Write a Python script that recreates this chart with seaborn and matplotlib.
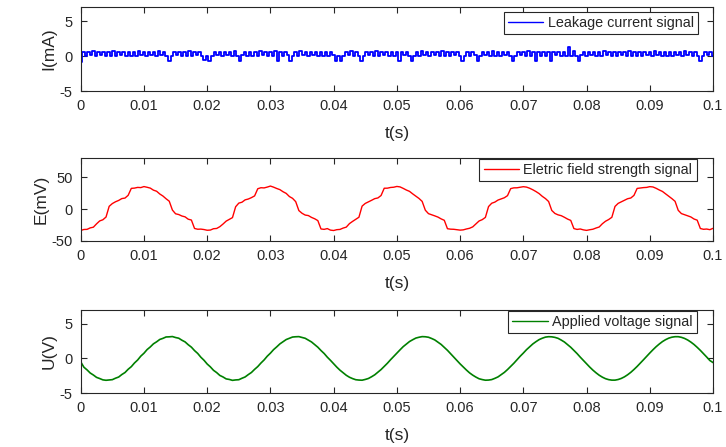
import numpy as np
import matplotlib
matplotlib.use("Agg")
import matplotlib.pyplot as plt
import seaborn as sns

# leakage current I(mA), one sample every 0.4 ms (0 .. 0.1 s)
leak_ma = [
    -0.8, 0.62, 0.04, 0.58, 0.08, 0.66, 0.02, 0.55, 0.10, 0.63,
    0.05, 0.60, 0.00, 0.68, 0.07, 0.57, 0.12, 0.61, 0.03, 0.64,
    0.06, 0.59, 0.01, 0.65, 0.09, 0.56, 0.04, 0.62, 0.11, 0.58,
    0.02, 0.67, 0.08, 0.60, 0.05, -0.75, 0.03, 0.63, 0.10, 0.57,
    0.04, 0.61, 0.07, 0.66, 0.00, 0.59, 0.09, 0.55, 0.06, -0.6,
    0.05, -0.7, 0.02, 0.64, 0.11, 0.58, 0.03, 0.62, 0.08, 0.60,
    0.01, 0.67, 0.06, -0.72, 0.09, 0.57, 0.04, 0.63, 0.07, 0.59,
    0.03, 0.65, 0.10, 0.56, 0.05, 0.61, 0.02, 0.68, -0.7, 0.58,
    0.06, 0.62, 0.09, -0.68, 0.04, 0.60, 0.01, 0.66, 0.08, 0.57,
    0.05, 0.63, 0.11, 0.59, 0.02, 0.64, 0.07, 0.56, 0.03, 0.61,
    0.09, -0.75, 0.06, -0.7, 0.04, 0.58, 0.10, 0.65, 0.01, 0.60,
    0.07, -0.65, 0.03, 0.62, 0.08, 0.57, 0.05, 0.66, 0.02, 0.59,
    0.10, 0.63, 0.04, 0.58, 0.06, 0.64, -0.72, 0.61, 0.09, 0.56,
    0.03, -0.7, 0.07, 0.60, 0.01, 0.65, 0.08, 0.57, 0.05, 0.62,
    0.11, 0.59, 0.02, 0.67, 0.06, 0.58, 0.04, 0.63, 0.09, 0.60,
    0.03, -0.68, 0.07, 0.56, 0.05, 0.64, 0.10, -0.7, 0.02, 0.61,
    0.08, 0.59, 0.04, 0.66, 0.06, 0.57, 0.01, 0.62, 0.09, 0.60,
    0.05, -0.7, 0.03, 0.63, 0.11, 0.58, 0.07, 0.65, 0.02, 0.59,
    -0.72, 0.61, 0.06, 0.57, 0.04, 0.64, -0.7, 0.60, 0.08, 0.62,
    0.03, 0.58, 0.05, 1.3, 0.07, 0.66, 0.01, -0.72, 0.09, 0.59,
    0.04, 0.63, 0.10, 0.57, 0.06, 0.61, 0.02, 0.67, 0.08, 0.58,
    0.05, 0.62, 0.03, 0.60, 0.09, 0.56, 0.07, 0.65, 0.01, 0.59,
    0.06, 0.64, 0.04, 0.58, 0.11, 0.61, 0.03, 0.66, 0.08, 0.57,
    0.02, 0.63, 0.07, 0.60, 0.05, 0.59, 0.10, 0.62, 0.04, 0.65,
    0.09, 0.58, 0.03, 0.61, 0.06, -0.72, 0.01, 0.64, 0.08, 0.60,
    0.05,
]

# electric field strength E(mV), one sample every 0.5 ms
field_mv = [
    -33.5, -32.0, -31.8, -29.5, -28.4, -23.2, -18.6, -16.8, -12.5, 4.3,
    8.6, 11.4, 13.5, 16.4, 17.2, 21.5, 32.4, 32.8, 33.9, 33.6,
    35.2, 34.1, 32.8, 29.6, 27.9, 23.6, 20.4, 16.1, 12.3, -1.6,
    -7.4, -8.6, -10.9, -12.2, -15.9, -17.2, -30.4, -31.6, -31.4, -32.1,
    -33.2, -32.9, -30.8, -30.4, -27.6, -23.5, -18.9, -16.2, -13.4, 3.6,
    9.3, 10.7, 14.4, 15.7, 17.9, 20.6, 31.8, 33.4, 33.1, 34.4,
    36.0, 34.3, 32.2, 30.4, 27.1, 24.5, 19.6, 16.8, 11.6, -2.4,
    -6.6, -9.4, -10.2, -13.1, -15.2, -18.1, -31.2, -31.8, -30.6, -33.0,
    -33.6, -32.3, -31.9, -29.8, -28.3, -22.8, -19.3, -16.1, -12.8, 4.6,
    8.8, 11.2, 13.7, 16.3, 17.4, 21.2, 32.6, 32.7, 33.8, 34.2,
    35.4, 34.7, 32.4, 29.8, 27.7, 23.8, 20.3, 16.6, 12.0, -1.8,
    -7.2, -8.9, -10.7, -12.6, -15.4, -17.6, -30.8, -31.5, -31.7, -32.4,
    -33.0, -32.6, -31.2, -30.1, -27.9, -23.3, -18.7, -16.6, -13.1, 3.9,
    9.1, 10.9, 14.1, 15.9, 17.7, 21.0, 32.0, 33.2, 33.3, 34.1,
    35.0, 34.4, 32.6, 30.2, 27.4, 24.2, 19.9, 16.4, 11.8, -2.2,
    -6.9, -9.1, -10.4, -12.9, -15.7, -17.8, -30.6, -31.9, -31.2, -32.6,
    -33.4, -32.4, -31.6, -29.7, -28.1, -23.0, -19.1, -16.4, -12.9, 4.1,
    8.9, 11.3, 13.8, 16.2, 17.3, 21.4, 32.3, 32.9, 33.6, 33.9,
    35.1, 34.6, 32.5, 29.9, 27.6, 23.9, 20.1, 16.3, 12.1, -2.0,
    -7.1, -8.8, -10.6, -12.4, -15.6, -17.4, -30.5, -31.7, -31.3, -32.3,
    -30.2,
]

# applied voltage U(V), one sample every 0.5 ms
voltage_v = [
    -0.50, -1.27, -1.66, -2.11, -2.40, -2.74, -2.91, -3.10, -3.16, -3.12,
    -3.07, -2.86, -2.69, -2.33, -2.04, -1.57, -1.19, -0.66, -0.23, 0.33,
    0.75, 1.28, 1.66, 2.11, 2.40, 2.74, 2.90, 3.10, 3.12, 3.16,
    3.02, 2.92, 2.63, 2.39, 1.98, 1.63, 1.13, 0.72, 0.17, -0.27,
    -0.81, -1.22, -1.72, -2.05, -2.46, -2.68, -2.96, -3.04, -3.17, -3.11,
    -3.08, -2.87, -2.68, -2.34, -2.03, -1.58, -1.18, -0.67, -0.22, 0.32,
    0.76, 1.27, 1.67, 2.10, 2.41, 2.73, 2.91, 3.09, 3.13, 3.15,
    3.03, 2.91, 2.64, 2.38, 1.99, 1.62, 1.14, 0.71, 0.18, -0.28,
    -0.77, -1.26, -1.70, -2.07, -2.44, -2.72, -2.92, -3.08, -3.13, -3.15,
    -3.04, -2.90, -2.65, -2.37, -2.00, -1.61, -1.15, -0.70, -0.19, 0.29,
    0.79, 1.24, 1.70, 2.07, 2.44, 2.70, 2.94, 3.06, 3.15, 3.13,
    3.06, 2.88, 2.67, 2.35, 2.02, 1.59, 1.17, 0.68, 0.21, -0.31,
    -0.79, -1.24, -1.68, -2.09, -2.42, -2.70, -2.94, -3.06, -3.15, -3.13,
    -3.06, -2.88, -2.67, -2.35, -2.02, -1.61, -1.15, -0.70, -0.19, 0.31,
    0.77, 1.26, 1.68, 2.09, 2.42, 2.72, 2.92, 3.08, 3.14, 3.12,
    3.04, 2.90, 2.65, 2.37, 2.00, 1.61, 1.15, 0.70, 0.19, -0.29,
    -0.78, -1.25, -1.69, -2.08, -2.43, -2.71, -2.93, -3.07, -3.14, -3.14,
    -3.05, -2.89, -2.66, -2.36, -2.01, -1.60, -1.16, -0.69, -0.20, 0.30,
    0.78, 1.25, 1.69, 2.08, 2.43, 2.71, 2.93, 3.07, 3.14, 3.14,
    3.05, 2.89, 2.66, 2.36, 2.01, 1.60, 1.16, 0.69, 0.20, -0.30,
    -0.60,
]

x_ticks = [0, 0.01, 0.02, 0.03, 0.04, 0.05, 0.06, 0.07, 0.08, 0.09, 0.1]
x_tick_labels = ["0", "0.01", "0.02", "0.03", "0.04", "0.05", "0.06", "0.07", "0.08", "0.09", "0.1"]

sns.set_style("ticks")
plt.rcParams["font.family"] = ["Liberation Sans", "DejaVu Sans"]
plt.rcParams["axes.unicode_minus"] = False

fig = plt.figure(figsize=(7.26, 4.47), dpi=100)

panels = [
    # values, color, label, ylabel, ylim, yticks, axes box, legend anchor, lw, drawstyle
    (leak_ma, "#0000ff", "Leakage current signal", "I(mA)", (-5, 7), [-5, 0, 5],
     [0.1112, 0.7964, 0.8709, 0.1879], (0.9763, 0.945), 1.3, "steps-mid"),
    (field_mv, "#ff0000", "Eletric field strength signal", "E(mV)", (-50, 80), [-50, 0, 50],
     [0.1112, 0.4609, 0.8709, 0.1857], (0.9742, 0.99), 1.0, "default"),
    (voltage_v, "#008000", "Applied voltage signal", "U(V)", (-5, 7), [-5, 0, 5],
     [0.1112, 0.1208, 0.8709, 0.1857], (0.9742, 0.99), 1.2, "default"),
]

for vals, col, lab, ylab, ylim, yt, box, anchor, lw, ds in panels:
    ax = fig.add_axes(box)
    t = np.linspace(0, 0.1, len(vals))
    sns.lineplot(x=t, y=vals, ax=ax, color=col, linewidth=lw, label=lab,
                 estimator=None, sort=False, drawstyle=ds)
    ax.set_xlim(0, 0.1)
    ax.set_ylim(*ylim)
    ax.set_xticks(x_ticks)
    ax.set_xticklabels(x_tick_labels)
    ax.set_yticks(yt)
    ax.tick_params(direction="in", length=4.5, width=0.8, colors="#262626",
                   labelsize=10.5, pad=6, top=True, right=True,
                   labelcolor="#262626")
    for sp in ax.spines.values():
        sp.set_visible(True)
        sp.set_linewidth(0.8)
        sp.set_color("#262626")
    ax.set_xlabel("t(s)", fontsize=12.5, labelpad=9, color="#262626")
    ax.set_ylabel(ylab, fontsize=12.5, labelpad=2, color="#262626")
    leg = ax.legend(loc="upper right", bbox_to_anchor=anchor, borderaxespad=0,
                    fontsize=10.4, frameon=True, fancybox=False, framealpha=1,
                    handlelength=2.45, handletextpad=0.3, borderpad=0.3)
    leg.get_frame().set_edgecolor("#262626")
    leg.get_frame().set_linewidth(0.8)
    for h in leg.get_lines():
        h.set_linewidth(1.0)
        h.set_drawstyle("default")

fig.savefig("out.png", dpi=100)
